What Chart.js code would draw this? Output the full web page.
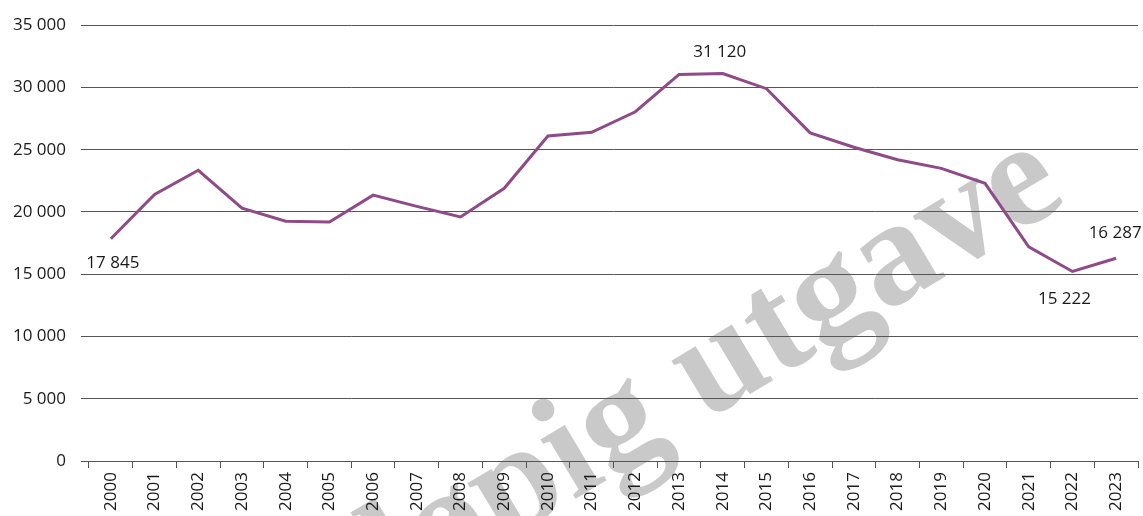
<!DOCTYPE html>
<html>
<head>
<meta charset="utf-8">
<script src="https://cdn.jsdelivr.net/npm/chart.js@4.4.0/dist/chart.umd.min.js"></script>
<style>
  html, body { margin: 0; padding: 0; background: #fff; }
  #wrap { width: 1143px; height: 516px; }
</style>
</head>
<body>
<div id="wrap"><canvas id="myChart" width="1143" height="516"></canvas></div>
<script>
const years = ['2000', '2001', '2002', '2003', '2004', '2005', '2006', '2007', '2008', '2009', '2010', '2011',
    '2012', '2013', '2014', '2015', '2016', '2017', '2018', '2019', '2020', '2021', '2022', '2023'];
const values = [17845, 21400, 23350, 20300, 19250, 19200, 21350, 20450, 19600, 21900, 26100, 26400,
    28050, 31050, 31120, 29900, 26350, 25200, 24200, 23500, 22300, 17200, 15222, 16287];
const labelledYears = ['2000', '2014', '2022', '2023'];
const yTicks = [0, 5000, 10000, 15000, 20000, 25000, 30000, 35000];
const watermark = 'Foreløpig utgave';

const lineColor = '#8f4a88';
const gridColor = '#555';
const fontFamily = "'Open Sans', sans-serif";

function fmt(v) {
    return String(v).replace(/\B(?=(\d{3})+(?!\d))/g, ' ');
}

// grått vannmerke bak rutenettet
const watermarkPlugin = {
    id: 'watermark',
    beforeDraw(chart) {
        const ctx = chart.ctx;
        ctx.save();
        ctx.font = "bold 150px 'Liberation Serif', serif";
        ctx.fillStyle = '#c9c9c9';
        ctx.textBaseline = 'alphabetic';
        ctx.translate(705, 421);
        ctx.rotate(-31 * Math.PI / 180);
        const pre = 'Foreløpig ';
        ctx.textAlign = 'left';
        ctx.fillText(watermark, -ctx.measureText(pre).width, 0);
        ctx.restore();
    }
};

// verdietiketter ved utvalgte år
const valueLabels = {
    id: 'valueLabels',
    afterDatasetsDraw(chart) {
        const ctx = chart.ctx;
        const meta = chart.getDatasetMeta(0);
        const offsets = { '2000': [2, 24], '2014': [-3, -21], '2022': [-8, 28], '2023': [-1, -25] };
        ctx.save();
        ctx.font = '17px ' + fontFamily;
        ctx.fillStyle = '#1a1a1a';
        ctx.textAlign = 'center';
        ctx.textBaseline = 'middle';
        labelledYears.forEach(function (yr) {
            const i = years.indexOf(yr);
            const p = meta.data[i];
            const o = offsets[yr];
            ctx.fillText(fmt(values[i]), p.x + o[0], p.y + o[1]);
        });
        ctx.restore();
    }
};

new Chart('myChart', {
    type: 'line',
    data: {
        labels: years,
        datasets: [{
            data: values,
            borderColor: lineColor,
            borderWidth: 3,
            pointRadius: 0,
            tension: 0,
            fill: false
        }]
    },
    options: {
        responsive: false,
        animation: false,
        layout: { padding: { top: 25, right: 5, bottom: 0, left: 0 } },
        plugins: {
            legend: { display: false },
            tooltip: { enabled: false }
        },
        scales: {
            x: {
                type: 'category',
                offset: true,
                grid: {
                    offset: true,
                    drawOnChartArea: false,
                    drawTicks: true,
                    tickLength: 7,
                    color: gridColor
                },
                border: { display: true, color: gridColor },
                ticks: {
                    minRotation: 90,
                    maxRotation: 90,
                    autoSkip: false,
                    padding: 4,
                    color: '#1a1a1a',
                    font: { family: fontFamily, size: 17 }
                },
                afterFit(scale) { scale.height = 55; }
            },
            y: {
                min: 0,
                max: 35000,
                afterBuildTicks(scale) {
                    scale.ticks = yTicks.map(function (v) { return { value: v }; });
                },
                grid: {
                    color: gridColor,
                    lineWidth: 1,
                    drawTicks: true,
                    tickLength: 8,
                    tickColor: gridColor
                },
                border: { display: false },
                ticks: {
                    padding: 15,
                    color: '#1a1a1a',
                    font: { family: fontFamily, size: 17 },
                    callback: function (v) { return fmt(v); }
                },
                afterFit(scale) { scale.width = 89; }
            }
        }
    },
    plugins: [watermarkPlugin, valueLabels]
});
</script>
</body>
</html>
